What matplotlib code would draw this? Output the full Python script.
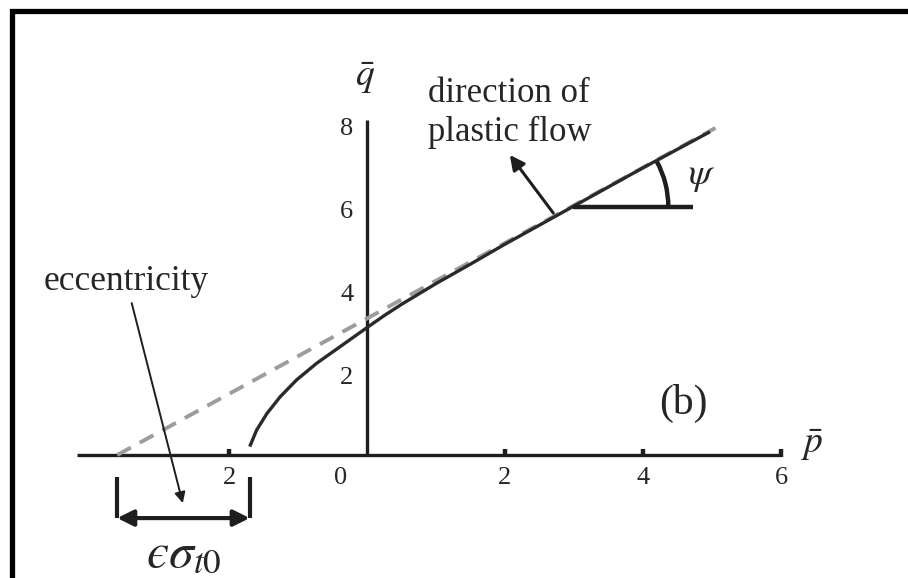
import numpy as np
import matplotlib
matplotlib.use("Agg")
import matplotlib.pyplot as plt
from matplotlib.patches import Arc, Rectangle

plt.rcParams['font.family'] = ['Liberation Serif', 'DejaVu Serif']
plt.rcParams['mathtext.fontset'] = 'stix'

# flow potential curve (p, q)
curve_p = [-1.69, -1.60, -1.45, -1.26, -1.02, -0.73, -0.39, 0.0, 0.25, 0.5, 0.75,
           1.0, 1.5, 2.0, 3.0, 4.0, 4.95]
curve_q = [0.24, 0.60, 1.00, 1.40, 1.81, 2.21, 2.61, 3.07, 3.36, 3.63, 3.88,
           4.13, 4.60, 5.08, 6.00, 6.92, 7.77]

# asymptote (dashed)
asym_p = [-3.62, 5.05]
asym_q = [0.0, 7.88]

# axes extents and ticks
p_axis = [-4.2, 6.0]
q_axis = [0.0, 8.07]
p_ticks = [-2, 0, 2, 4, 6]
p_ticklabels = ["2", "0", "2", "4", "6"]
q_ticks = [2, 4, 6, 8]
q_ticklabels = ["2", "4", "6", "8"]

# angle psi construction
psi_vertex = (2.99, 5.98)
psi_end_p = 4.72

# eccentricity bracket
ecc_p = [-3.62, -1.70]

ink = '#1e1e1e'
txt = '#262626'

fig = plt.figure(figsize=(9.08, 5.78), dpi=100)
ax = fig.add_axes([0, 0, 1, 1])
ax.set_xlim(-5.319, 7.841)
ax.set_ylim(-2.964, 10.964)
ax.axis('off')

# outer frame (only left/top visible)
ax.add_patch(Rectangle((12 / 908., -0.2), 1.5, 1.2 - 11 / 578., transform=ax.transAxes,
                       fill=False, lw=3.8, ec='black', clip_on=False))

# axes lines
ax.plot(p_axis, [0, 0], color=ink, lw=2.4, solid_capstyle='butt')
ax.plot([0, 0], q_axis, color=ink, lw=2.4, solid_capstyle='butt')
tk = [t for t in p_ticks if t != 0]
ax.plot(tk, [0.06] * len(tk), ls='none', marker='|', ms=6, mew=3.2, color=ink)

for t, lab in zip(p_ticks, p_ticklabels):
    dx = -0.39 if t == 0 else 0
    ax.text(t + dx, -0.55, lab, ha='center', va='center', fontsize=19, color=txt)
for t, lab in zip(q_ticks, q_ticklabels):
    ax.text(-0.2, t - 0.15, lab, ha='right', va='center', fontsize=19, color=txt)

ax.text(-0.03, 9.08, r'$\bar{q}$', ha='center', va='center', fontsize=27, color=txt)
ax.text(6.45, 0.24, r'$\bar{p}$', ha='center', va='center', fontsize=27, color=txt)

# asymptote and curve
ax.plot(asym_p, asym_q, color='#9c9c9c', lw=2.8, ls=(0, (4, 2.6)))
ax.plot(curve_p, curve_q, color='#2a2a2a', lw=2.4)

# angle psi
ax.plot([psi_vertex[0], psi_end_p], [psi_vertex[1]] * 2, color=ink, lw=3.2, solid_capstyle='butt')
slope = (asym_q[1] - asym_q[0]) / (asym_p[1] - asym_p[0])
r_px = 95.
ax.add_patch(Arc(psi_vertex, 2 * r_px / 69., 2 * r_px / 41.5, theta1=0,
                 theta2=np.degrees(np.arctan(slope)), lw=3.2, color=ink))
ax.text(4.85, 6.70, r'$\psi$', ha='center', va='center', fontsize=27, color=txt)

# direction of plastic flow
ax.annotate('', xy=(2.07, 7.23), xytext=(2.70, 5.83),
            arrowprops=dict(arrowstyle='-|>', color=ink, lw=2.2, mutation_scale=22,
                            shrinkA=0, shrinkB=0))
ax.text(0.88, 8.24, 'direction of\nplastic flow', ha='left', va='center',
        fontsize=25, color=txt, linespacing=1.2)

# eccentricity
ax.text(-3.49, 4.17, 'eccentricity', ha='center', va='center', fontsize=25.5, color=txt)
ax.annotate('', xy=(-2.67, -1.16), xytext=(-3.41, 3.66),
            arrowprops=dict(arrowstyle='-|>', color=ink, lw=1.4, mutation_scale=16,
                            shrinkA=0, shrinkB=0))
for pp in ecc_p:
    ax.plot([pp, pp], [-0.53, -1.52], color=ink, lw=3.0, solid_capstyle='butt')
ax.annotate('', xy=(ecc_p[1], -1.52), xytext=(ecc_p[0], -1.52),
            arrowprops=dict(arrowstyle='<|-|>', color=ink, lw=3.0, mutation_scale=24,
                            shrinkA=0, shrinkB=0))
ax.text(np.mean(ecc_p), -2.40, '$\u03f5\\sigma_{t0}$', ha='center', va='center',
        fontsize=36, color=txt)

ax.text(4.58, 1.25, '(b)', ha='center', va='center', fontsize=30, color=txt)

fig.savefig('out.png', dpi=100)
